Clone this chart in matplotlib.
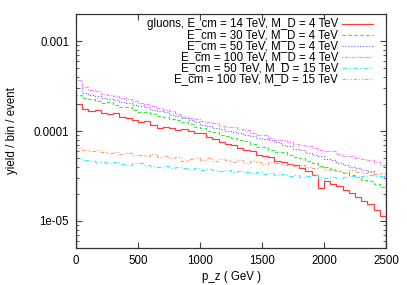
import numpy as np
import matplotlib
matplotlib.use('Agg')
import matplotlib.pyplot as plt
from matplotlib.ticker import FixedLocator, FixedFormatter, LogLocator, NullFormatter

plt.rcParams['font.family'] = ['Liberation Sans', 'DejaVu Sans']

# Histogram bins (50 GeV wide, 0 - 2500 GeV)
bin_edges = np.linspace(0, 2500, 51)

# yield / bin / event, in units of 1e-4
gluons_14_4 = np.array([
    1.995, 1.756, 1.668, 1.711, 1.585, 1.545, 1.585, 1.431, 1.395, 1.325,
    1.259, 1.292, 1.166, 1.080, 1.108, 1.080, 1.026, 1.053, 1.000, 0.950,
    0.950, 0.858, 0.815, 0.755, 0.717, 0.699, 0.647, 0.615, 0.600, 0.541,
    0.528, 0.514, 0.464, 0.453, 0.430, 0.419, 0.388, 0.359, 0.325, 0.233,
    0.278, 0.258, 0.245, 0.221, 0.205, 0.185, 0.167, 0.155, 0.133, 0.114]) * 1e-4
ecm30_4 = np.array([
    2.512, 2.326, 2.268, 2.154, 2.047, 2.100, 1.945, 1.848, 1.848, 1.711,
    1.626, 1.626, 1.545, 1.468, 1.431, 1.359, 1.325, 1.259, 1.196, 1.108,
    1.080, 1.000, 0.975, 0.903, 0.880, 0.836, 0.794, 0.774, 0.717, 0.664,
    0.664, 0.615, 0.584, 0.584, 0.541, 0.514, 0.501, 0.464, 0.441, 0.408,
    0.398, 0.369, 0.359, 0.342, 0.325, 0.308, 0.286, 0.278, 0.258, 0.239]) * 1e-4
ecm50_4 = np.array([
    3.005, 2.644, 2.512, 2.448, 2.326, 2.268, 2.211, 2.100, 2.047, 1.945,
    1.896, 1.848, 1.711, 1.668, 1.626, 1.506, 1.468, 1.395, 1.325, 1.259,
    1.166, 1.136, 1.080, 1.053, 1.000, 0.975, 0.950, 0.903, 0.880, 0.836,
    0.815, 0.794, 0.755, 0.699, 0.681, 0.631, 0.615, 0.570, 0.541, 0.528,
    0.489, 0.476, 0.441, 0.419, 0.398, 0.388, 0.369, 0.359, 0.333, 0.316]) * 1e-4
ecm100_4 = np.array([
    3.687, 3.083, 2.855, 2.783, 2.577, 2.512, 2.448, 2.326, 2.268, 2.154,
    2.047, 1.995, 1.896, 1.801, 1.711, 1.668, 1.545, 1.431, 1.395, 1.359,
    1.292, 1.259, 1.227, 1.136, 1.108, 1.108, 1.053, 1.026, 0.950, 0.903,
    0.903, 0.836, 0.794, 0.794, 0.755, 0.717, 0.699, 0.681, 0.647, 0.615,
    0.600, 0.600, 0.555, 0.528, 0.528, 0.501, 0.489, 0.476, 0.453, 0.419]) * 1e-4
ecm50_15 = np.array([
    0.501, 0.476, 0.464, 0.453, 0.453, 0.441, 0.453, 0.430, 0.419, 0.441,
    0.441, 0.419, 0.408, 0.398, 0.408, 0.388, 0.398, 0.388, 0.378, 0.388,
    0.369, 0.378, 0.369, 0.359, 0.369, 0.350, 0.359, 0.350, 0.342, 0.350,
    0.333, 0.342, 0.325, 0.333, 0.316, 0.325, 0.308, 0.316, 0.325, 0.308,
    0.300, 0.308, 0.300, 0.308, 0.316, 0.308, 0.316, 0.325, 0.316, 0.316]) * 1e-4
ecm100_15 = np.array([
    0.647, 0.615, 0.600, 0.615, 0.584, 0.570, 0.584, 0.555, 0.570, 0.541,
    0.541, 0.528, 0.555, 0.514, 0.528, 0.501, 0.514, 0.464, 0.489, 0.501,
    0.476, 0.501, 0.464, 0.489, 0.476, 0.453, 0.476, 0.441, 0.464, 0.453,
    0.430, 0.453, 0.441, 0.419, 0.430, 0.408, 0.419, 0.398, 0.388, 0.398,
    0.369, 0.378, 0.359, 0.350, 0.369, 0.350, 0.342, 0.350, 0.333, 0.342]) * 1e-4

series = [gluons_14_4, ecm30_4, ecm50_4, ecm100_4, ecm50_15, ecm100_15]
labels = ['gluons, E_cm = 14 TeV, M_D = 4 TeV',
          'E_cm = 30 TeV, M_D = 4 TeV',
          'E_cm = 50 TeV, M_D = 4 TeV',
          'E_cm = 100 TeV, M_D = 4 TeV',
          'E_cm = 50 TeV, M_D = 15 TeV',
          'E_cm = 100 TeV, M_D = 15 TeV']
colors = ['#ff3a3a', '#3ee83e', '#6a6aff', '#ff84ff', '#40f0f0', '#ffa07a']
styles = ['-', (0, (3, 2)), (0, (1, 1.5)), (0, (1, 1, 3, 1)), (0, (4, 2, 1, 2)),
          (0, (3, 1.5, 1, 1.5, 1, 1.5))]

xticks = [0, 500, 1000, 1500, 2000, 2500]
yticks = [1e-5, 1e-4, 1e-3]
ytick_labels = ['1e-05', '0.0001', '0.001']
fs = 8.3

fig = plt.figure(figsize=(4.07, 2.85), dpi=100)
ax = fig.add_axes([76/407, 37/285, 310/407, 234/285])

for vals, col, ls in zip(series, colors, styles):
    ax.stairs(vals, bin_edges, color=col, linestyle=ls, linewidth=0.85)

ax.set_yscale('log')
ax.set_xlim(0, 2500)
ax.set_ylim(5e-6, 2e-3)

ax.xaxis.set_major_locator(FixedLocator(xticks))
ax.yaxis.set_major_locator(FixedLocator(yticks))
ax.yaxis.set_major_formatter(FixedFormatter(ytick_labels))
ax.yaxis.set_minor_locator(LogLocator(base=10, subs=np.arange(2, 10)))
ax.yaxis.set_minor_formatter(NullFormatter())

ax.tick_params(which='both', direction='in', top=True, right=True,
               labelsize=fs, color='#444444')
ax.tick_params(which='major', length=4, width=0.8, pad=5)
ax.tick_params(which='minor', length=2, width=0.6)
for sp in ax.spines.values():
    sp.set_linewidth(0.9)
    sp.set_color('#333333')

# axis titles placed directly (keeps the underscore on a whole pixel row)
fig.text(231/407, 1 - 277.4/285, 'p_z ( GeV )', fontsize=fs,
         ha='center', va='center')
fig.text(12/407, 1 - 131/285, 'yield / bin / event', fontsize=fs,
         ha='center', va='center', rotation=90)

# key, gnuplot style: text right-aligned, sample line on the right
for i, (lab, col, ls) in enumerate(zip(labels, colors, styles)):
    yk = (248 - 24 - 11 * i) / 234
    ax.text(0.845, yk, lab, transform=ax.transAxes, ha='right', va='center',
            fontsize=fs)
    ax.plot([0.858, 0.958], [yk, yk], transform=ax.transAxes, color=col,
            linestyle=ls, linewidth=0.85)

fig.savefig('out.png', dpi=100)
